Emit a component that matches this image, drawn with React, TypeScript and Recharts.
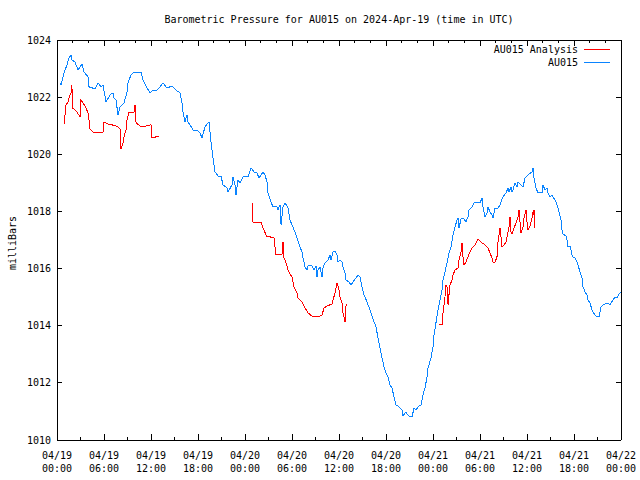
import React from 'react';
import { LineChart, Line, XAxis, YAxis } from 'recharts';

// ---------- text ----------
const chartTitle = 'Barometric Pressure for AU015 on 2024-Apr-19 (time in UTC)';
const yAxisTitle = 'milliBars';
const seriesNames = ['AU015 Analysis', 'AU015'];
const seriesColors = ['#ff0000', '#0a84ff'];

// ---------- ticks (hours since 2024-04-19 00:00 UTC) ----------
const xMajorHours = [0, 6, 12, 18, 24, 30, 36, 42, 48, 54, 60, 66, 72];
const xDateLabels = ['04/19', '04/19', '04/19', '04/19', '04/20', '04/20', '04/20', '04/20', '04/21', '04/21', '04/21', '04/21', '04/22'];
const xTimeLabels = ['00:00', '06:00', '12:00', '18:00', '00:00', '06:00', '12:00', '18:00', '00:00', '06:00', '12:00', '18:00', '00:00'];
const xBottomMinorHours = [3, 9, 15, 21, 27, 33, 39, 45, 51, 57, 63, 69];
const xTopMinorHours = [2, 4, 8, 10, 14, 16, 20, 22, 26, 28, 32, 34, 38, 40, 44, 46, 50, 52, 56, 58, 62, 64, 68, 70];
const yTicks = [1010, 1012, 1014, 1016, 1018, 1020, 1022, 1024];

// ---------- AU015 station readings [hour, mbar] ----------
const au015Readings: [number, number][] = [
  [0.38, 1022.5], [0.51, 1022.43], [0.89, 1022.85], [1.28, 1023.13], [1.53, 1023.37], [1.79, 1023.48], [1.91, 1023.3], [2.3, 1023.23],
  [2.68, 1022.95], [3.19, 1023.16], [3.45, 1022.88], [3.96, 1022.71], [4.09, 1022.36], [4.85, 1022.29], [5.23, 1022.5], [5.62, 1022.36],
  [5.87, 1022.43], [6.26, 1021.83], [6.77, 1022.08], [7.15, 1022.15], [7.28, 1021.97], [7.53, 1021.9], [7.79, 1021.38], [8.04, 1021.66],
  [8.55, 1021.8], [8.94, 1022.18], [9.06, 1022.5], [9.45, 1022.78], [9.7, 1022.85], [10.21, 1022.88], [10.72, 1022.88], [10.98, 1022.6],
  [11.49, 1022.32], [11.87, 1022.15], [12.26, 1022.25], [12.77, 1022.25], [13.15, 1022.36], [13.53, 1022.5], [14.04, 1022.32], [14.68, 1022.39],
  [15.32, 1022.22], [15.7, 1022.15], [15.96, 1021.8], [16.09, 1021.48], [16.34, 1021.13], [16.6, 1021.38], [16.72, 1021.13], [16.98, 1021.03],
  [17.36, 1020.85], [17.87, 1020.85], [18.26, 1020.75], [18.51, 1020.57], [18.89, 1020.96], [19.28, 1021.1], [19.4, 1021.13], [19.66, 1020.43],
  [19.92, 1019.87], [20.17, 1019.38], [20.56, 1019.24], [20.94, 1019.24], [21.19, 1018.93], [21.7, 1018.82], [21.83, 1018.68], [22.34, 1018.93],
  [22.47, 1019.21], [22.72, 1018.93], [22.85, 1018.58], [23.11, 1019.1], [23.36, 1019.0], [23.75, 1019.21], [24.38, 1019.21], [24.77, 1019.52],
  [24.89, 1019.49], [25.15, 1019.38], [25.53, 1019.35], [25.79, 1019.17], [26.04, 1019.28], [26.3, 1019.38], [26.55, 1019.28], [26.81, 1019.03],
  [26.94, 1018.65], [27.32, 1018.33], [27.58, 1018.16], [28.09, 1018.16], [28.21, 1018.05], [28.47, 1018.23], [28.6, 1017.53], [28.85, 1018.16],
  [29.11, 1018.3], [29.49, 1018.12], [29.75, 1017.7], [30.0, 1017.53], [30.38, 1017.28], [30.64, 1017.07], [31.02, 1016.76], [31.28, 1016.58],
  [31.41, 1016.37], [31.66, 1016.06], [31.92, 1015.95], [32.04, 1016.09], [32.3, 1016.13], [32.55, 1016.09], [32.81, 1015.95], [33.07, 1016.09],
  [33.19, 1015.71], [33.32, 1015.95], [33.58, 1016.06], [33.83, 1015.71], [33.96, 1016.02], [34.21, 1016.2], [34.6, 1016.3], [34.85, 1016.48],
  [34.98, 1016.3], [35.24, 1016.58], [35.49, 1016.62], [35.75, 1016.48], [35.87, 1016.23], [36.13, 1016.3], [36.38, 1016.23], [36.51, 1016.06],
  [36.77, 1015.85], [36.9, 1015.6], [37.28, 1015.53], [37.53, 1015.43], [37.79, 1015.53], [38.17, 1015.67], [38.43, 1015.78], [38.68, 1015.71],
  [38.94, 1015.36], [39.19, 1015.08], [39.58, 1014.83], [39.96, 1014.55], [40.34, 1014.24], [40.72, 1013.96], [40.98, 1013.57], [41.23, 1013.22],
  [41.49, 1012.87], [41.75, 1012.56], [42.0, 1012.35], [42.26, 1012.21], [42.51, 1011.93], [42.77, 1011.82], [43.02, 1011.51], [43.28, 1011.23],
  [43.66, 1011.16], [44.04, 1011.05], [44.17, 1010.84], [44.55, 1010.98], [44.68, 1010.91], [45.07, 1010.81], [45.32, 1010.81], [45.58, 1011.12],
  [45.83, 1011.05], [46.09, 1011.16], [46.47, 1011.23], [46.72, 1011.58], [46.98, 1011.82], [47.24, 1012.21], [47.36, 1012.52], [47.75, 1012.87],
  [48.0, 1013.26], [48.13, 1013.68], [48.38, 1014.1], [48.64, 1014.55], [48.9, 1014.9], [49.15, 1015.25], [49.28, 1015.6], [49.53, 1015.88],
  [49.79, 1016.2], [50.04, 1016.55], [50.3, 1016.76], [50.56, 1017.18], [50.81, 1017.46], [51.07, 1017.7], [51.19, 1017.77], [51.32, 1017.42],
  [51.58, 1017.74], [51.96, 1017.74], [52.21, 1017.63], [52.47, 1017.81], [52.6, 1018.05], [52.98, 1018.16], [53.23, 1018.3], [53.62, 1018.33],
  [54.0, 1018.3], [54.26, 1018.47], [54.38, 1018.16], [54.64, 1017.81], [54.9, 1017.95], [55.02, 1018.16], [55.28, 1017.98], [55.53, 1017.88],
  [55.66, 1017.77], [55.92, 1018.12], [56.17, 1018.09], [56.3, 1018.12], [56.56, 1018.23], [56.81, 1018.44], [56.94, 1018.51], [57.32, 1018.65],
  [57.58, 1018.82], [57.7, 1018.68], [57.96, 1018.86], [58.09, 1018.68], [58.21, 1018.75], [58.47, 1019.0], [58.73, 1018.86], [58.85, 1019.03],
  [59.11, 1018.96], [59.49, 1018.86], [59.75, 1019.17], [60.13, 1019.28], [60.64, 1019.38], [60.77, 1019.52], [60.9, 1019.17], [61.15, 1018.82],
  [61.4, 1018.65], [61.92, 1018.65], [62.04, 1018.93], [62.3, 1018.75], [62.56, 1018.82], [62.68, 1018.65], [62.94, 1018.51], [63.19, 1018.58],
  [63.32, 1018.51], [63.58, 1018.4], [63.83, 1018.23], [64.09, 1017.98], [64.34, 1017.7], [64.47, 1017.35], [64.6, 1017.21], [64.98, 1017.14],
  [65.11, 1017.0], [65.24, 1016.76], [65.49, 1016.79], [65.75, 1016.48], [65.87, 1016.41], [66.13, 1016.37], [66.39, 1016.23], [66.51, 1016.13],
  [66.77, 1015.88], [67.02, 1015.67], [67.15, 1015.36], [67.41, 1015.18], [67.66, 1015.08], [67.79, 1014.9], [68.04, 1014.8], [68.3, 1014.55],
  [68.43, 1014.48], [68.68, 1014.38], [68.94, 1014.31], [69.19, 1014.31], [69.45, 1014.66], [69.7, 1014.73], [69.96, 1014.76], [70.21, 1014.8],
  [70.6, 1014.73], [70.98, 1014.9], [71.24, 1015.01], [71.49, 1014.97], [71.75, 1015.11], [72.0, 1015.18],
];

// ---------- AU015 Analysis, three runs [hour, mbar] ----------
const analysisRun19: [number, number][] = [
  [0.89, 1021.06], [1.02, 1021.38], [1.15, 1021.73], [1.4, 1021.83], [1.53, 1021.97], [1.66, 1022.08], [1.79, 1022.15], [1.91, 1022.43],
  [1.95, 1021.59], [2.17, 1021.59], [2.55, 1021.48], [2.94, 1021.31], [3.06, 1021.9], [3.32, 1021.8], [3.7, 1021.62], [3.96, 1021.45],
  [4.09, 1021.2], [4.21, 1020.89], [4.6, 1020.78], [5.11, 1020.75], [5.74, 1020.75], [5.87, 1020.78], [6.0, 1021.13], [6.51, 1021.06],
  [7.02, 1021.03], [7.53, 1020.99], [7.79, 1020.96], [8.04, 1020.89], [8.17, 1020.19], [8.43, 1020.4], [8.55, 1020.61], [8.81, 1020.85],
  [8.94, 1021.2], [9.19, 1021.48], [9.57, 1021.48], [9.83, 1021.48], [9.96, 1021.73], [10.09, 1021.1], [10.6, 1020.99], [10.98, 1020.96],
  [11.36, 1020.99], [12.0, 1021.03], [12.13, 1020.57], [12.64, 1020.61], [13.02, 1020.64],
];
const analysisRun20: [number, number][] = [
  [24.89, 1018.3], [25.02, 1017.63], [26.04, 1017.63], [26.3, 1017.42], [26.81, 1017.11], [27.19, 1017.11], [27.7, 1017.07], [27.96, 1016.48],
  [28.72, 1016.48], [28.85, 1016.93], [28.98, 1016.37], [29.24, 1016.2], [29.49, 1015.95], [29.75, 1015.81], [30.0, 1015.71], [30.26, 1015.36],
  [30.64, 1015.15], [30.77, 1014.97], [31.28, 1014.83], [31.66, 1014.62], [32.04, 1014.45], [32.68, 1014.31], [33.32, 1014.31], [33.83, 1014.38],
  [34.09, 1014.62], [34.47, 1014.69], [35.11, 1014.76], [35.49, 1015.15], [35.75, 1015.5], [36.0, 1015.25], [36.13, 1015.01], [36.38, 1014.8],
  [36.51, 1014.45], [36.77, 1014.13], [36.9, 1014.73], [37.02, 1014.73],
];
const analysisRun21: [number, number][] = [
  [48.77, 1014.03], [49.15, 1014.03], [49.28, 1014.45], [49.41, 1014.73], [49.53, 1015.01], [49.66, 1015.43], [49.79, 1015.36], [49.92, 1014.73],
  [50.04, 1015.08], [50.17, 1015.43], [50.43, 1015.6], [50.56, 1015.78], [50.81, 1015.95], [51.19, 1016.02], [51.32, 1016.3], [51.58, 1016.58],
  [51.7, 1016.9], [51.83, 1016.41], [51.96, 1016.13], [52.21, 1016.23], [52.47, 1016.41], [52.72, 1016.58], [52.98, 1016.72], [53.36, 1016.83],
  [53.75, 1017.04], [54.26, 1016.9], [54.64, 1016.83], [55.02, 1016.72], [55.28, 1016.55], [55.53, 1016.37], [55.66, 1016.23], [55.92, 1016.23],
  [56.17, 1016.41], [56.3, 1016.93], [56.43, 1017.18], [56.56, 1017.42], [56.68, 1017.11], [56.81, 1016.76], [57.07, 1016.83], [57.32, 1016.93],
  [57.45, 1017.11], [57.58, 1017.28], [57.7, 1017.46], [57.83, 1017.81], [57.96, 1017.28], [58.09, 1017.21], [58.34, 1017.42], [58.6, 1017.6],
  [58.85, 1017.81], [58.98, 1018.05], [59.11, 1017.63], [59.24, 1017.25], [59.49, 1017.46], [59.62, 1017.77], [59.87, 1018.05], [60.0, 1017.63],
  [60.13, 1017.35], [60.39, 1017.49], [60.64, 1017.77], [60.77, 1017.98], [60.83, 1017.88], [60.9, 1018.05], [61.02, 1017.42],
];

// ---------- build series ----------
type Pt = { h: number; v: number | null };
const stationData: Pt[] = au015Readings.map(([h, v]) => ({ h, v }));
const gapAfter = (run: [number, number][]): Pt => ({ h: run[run.length - 1][0] + 0.5, v: null });
const analysisData: Pt[] = [
  ...analysisRun19.map(([h, v]) => ({ h, v })),
  gapAfter(analysisRun19),
  ...analysisRun20.map(([h, v]) => ({ h, v })),
  gapAfter(analysisRun20),
  ...analysisRun21.map(([h, v]) => ({ h, v })),
];

const FONT = '"DejaVu Sans Mono", "Liberation Mono", monospace';
const FS = 10;

const BottomTick = (props: any) => {
  const { x, y, payload } = props;
  const i = xMajorHours.indexOf(payload.value);
  const major = i >= 0;
  return (
    <g>
      <line x1={x} y1={y} x2={x} y2={y - (major ? 6 : 3)} stroke="#000" shapeRendering="crispEdges" />
      {major && (
        <text x={x} y={y} textAnchor="middle" fontFamily={FONT} fontSize={FS} fill="#000">
          <tspan x={x} dy={19}>{xDateLabels[i]}</tspan>
          <tspan x={x} dy={13}>{xTimeLabels[i]}</tspan>
        </text>
      )}
    </g>
  );
};

const TopTick = (props: any) => {
  const { x, y, payload } = props;
  const major = xMajorHours.indexOf(payload.value) >= 0;
  return <line x1={x} y1={y} x2={x} y2={y + (major ? 6 : 3)} stroke="#000" shapeRendering="crispEdges" />;
};

const LeftTick = (props: any) => {
  const { x, y, payload } = props;
  return (
    <g>
      <line x1={x} y1={y} x2={x + 5} y2={y} stroke="#000" shapeRendering="crispEdges" />
      <text x={x - 6} y={y} textAnchor="end" dominantBaseline="central" fontFamily={FONT} fontSize={FS} fill="#000">
        {payload.value}
      </text>
    </g>
  );
};

const RightTick = (props: any) => {
  const { x, y } = props;
  return <line x1={x} y1={y} x2={x - 5} y2={y} stroke="#000" shapeRendering="crispEdges" />;
};

const allBottomTicks = [...xMajorHours, ...xBottomMinorHours].sort((a, b) => a - b);
const allTopTicks = [...xMajorHours, ...xTopMinorHours].sort((a, b) => a - b);

export default function App() {
  return (
    <div style={{ position: 'absolute', left: 0, top: 0, width: 640, height: 480, background: '#fff' }}>
      <LineChart width={640} height={480} margin={{ top: 30, right: 9, bottom: 0, left: 0 }}>
        <XAxis
          xAxisId="bottom"
          dataKey="h"
          type="number"
          domain={[0, 72]}
          ticks={allBottomTicks}
          interval={0}
          allowDataOverflow
          height={40}
          tickSize={0}
          tickMargin={0}
          tickLine={false}
          axisLine={{ stroke: '#000', shapeRendering: 'crispEdges' }}
          tick={BottomTick}
        />
        <XAxis
          xAxisId="top"
          orientation="top"
          dataKey="h"
          type="number"
          domain={[0, 72]}
          ticks={allTopTicks}
          interval={0}
          allowDataOverflow
          height={10}
          tickSize={0}
          tickMargin={0}
          tickLine={false}
          axisLine={{ stroke: '#000', shapeRendering: 'crispEdges' }}
          tick={TopTick}
        />
        <YAxis
          yAxisId="left"
          type="number"
          domain={[1010, 1024]}
          ticks={yTicks}
          interval={0}
          allowDataOverflow
          width={57}
          tickSize={0}
          tickMargin={0}
          tickLine={false}
          axisLine={{ stroke: '#000', shapeRendering: 'crispEdges' }}
          tick={LeftTick}
        />
        <YAxis
          yAxisId="right"
          orientation="right"
          type="number"
          domain={[1010, 1024]}
          ticks={yTicks}
          interval={0}
          allowDataOverflow
          width={10}
          tickSize={0}
          tickMargin={0}
          tickLine={false}
          axisLine={{ stroke: '#000', shapeRendering: 'crispEdges' }}
          tick={RightTick}
        />
        <Line
          xAxisId="bottom"
          yAxisId="left"
          data={analysisData}
          dataKey="v"
          type="linear"
          stroke={seriesColors[0]}
          strokeWidth={1}
          style={{ shapeRendering: 'crispEdges' }}
          dot={false}
          activeDot={false}
          connectNulls={false}
          isAnimationActive={false}
          name={seriesNames[0]}
        />
        <Line
          xAxisId="bottom"
          yAxisId="left"
          data={stationData}
          dataKey="v"
          type="linear"
          stroke={seriesColors[1]}
          strokeWidth={1}
          style={{ shapeRendering: 'crispEdges' }}
          dot={false}
          activeDot={false}
          isAnimationActive={false}
          name={seriesNames[1]}
        />
      </LineChart>
      <svg width={640} height={480} style={{ position: 'absolute', left: 0, top: 0, pointerEvents: 'none' }}>
        <text x={339} y={19} textAnchor="middle" dominantBaseline="central" fontFamily={FONT} fontSize={FS} fill="#000">
          {chartTitle}
        </text>
        <text
          x={12}
          y={243}
          textAnchor="middle"
          dominantBaseline="central"
          fontFamily={FONT}
          fontSize={FS}
          fill="#000"
          transform="rotate(-90 12 243)"
        >
          {yAxisTitle}
        </text>
        {seriesNames.map((name, i) => (
          <g key={name}>
            <text x={578} y={49 + i * 13} textAnchor="end" dominantBaseline="central" fontFamily={FONT} fontSize={FS} fill="#000">
              {name}
            </text>
            <line
              x1={584}
              x2={610}
              y1={49.5 + i * 13}
              y2={49.5 + i * 13}
              stroke={seriesColors[i]}
              strokeWidth={1}
              shapeRendering="crispEdges"
            />
          </g>
        ))}
      </svg>
    </div>
  );
}
